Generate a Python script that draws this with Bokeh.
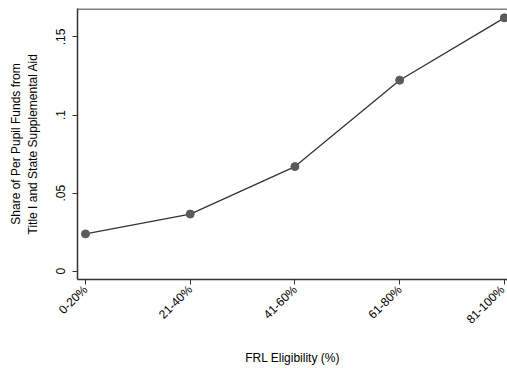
import math
from bokeh.plotting import figure
from bokeh.models import FixedTicker, Range1d, Span
from bokeh.embed import file_html
from bokeh.resources import INLINE

categories = ["0-20%", "21-40%", "41-60%", "61-80%", "81-100%"]
shares = [0.0239, 0.0366, 0.0670, 0.1223, 0.1622]
y_ticks = [0, 0.05, 0.1, 0.15]
y_tick_labels = ["0", ".05", ".1", ".15"]

xs = list(range(1, len(categories) + 1))
y_top = 0.1682

p = figure(width=507, height=368, output_backend="svg", toolbar_location=None,
           x_range=Range1d(0.9235, 5.03), y_range=Range1d(-0.0053, y_top),
           min_border_left=77, min_border_right=0, min_border_top=8, min_border_bottom=88)

p.line(xs, shares, line_color="#333333", line_width=1.3)
p.scatter(xs, shares, size=8, fill_color="#5a5a5a", line_color="#5a5a5a")

p.xgrid.visible = False
p.ygrid.visible = False
p.outline_line_color = None
p.background_fill_color = "white"

# top frame line only (no right edge, as in the reference)
p.add_layout(Span(location=y_top - 0.0004, dimension="width",
                  line_color="#555555", line_width=1.5))

font = "Liberation Sans"
p.xaxis.ticker = FixedTicker(ticks=xs)
p.xaxis.major_label_overrides = {x: c for x, c in zip(xs, categories)}
p.xaxis.major_label_orientation = math.pi / 4
p.xaxis.axis_label = "FRL Eligibility (%)"
p.yaxis.ticker = FixedTicker(ticks=y_ticks)
p.yaxis.major_label_overrides = {t: l for t, l in zip(y_ticks, y_tick_labels)}
p.yaxis.major_label_orientation = "vertical"
p.yaxis.axis_label = "Share of Per Pupil Funds from\nTitle I and State Supplemental Aid"

for ax in (p.xaxis, p.yaxis):
    ax.axis_line_color = "#333333"
    ax.axis_line_width = 1.5
    ax.major_tick_line_color = "#333333"
    ax.major_tick_out = 5
    ax.major_tick_in = 0
    ax.minor_tick_line_color = None
    ax.major_label_text_font = font
    ax.major_label_text_font_size = "12px"
    ax.major_label_text_color = "black"
    ax.axis_label_text_font = font
    ax.axis_label_text_font_size = "12px"
    ax.axis_label_text_font_style = "normal"
    ax.axis_label_text_color = "black"
p.yaxis.major_label_standoff = 7
p.yaxis.axis_label_standoff = 14
p.xaxis.major_label_standoff = 3
p.xaxis.axis_label_standoff = 17

open("out.html", "w").write(file_html(p, INLINE))
